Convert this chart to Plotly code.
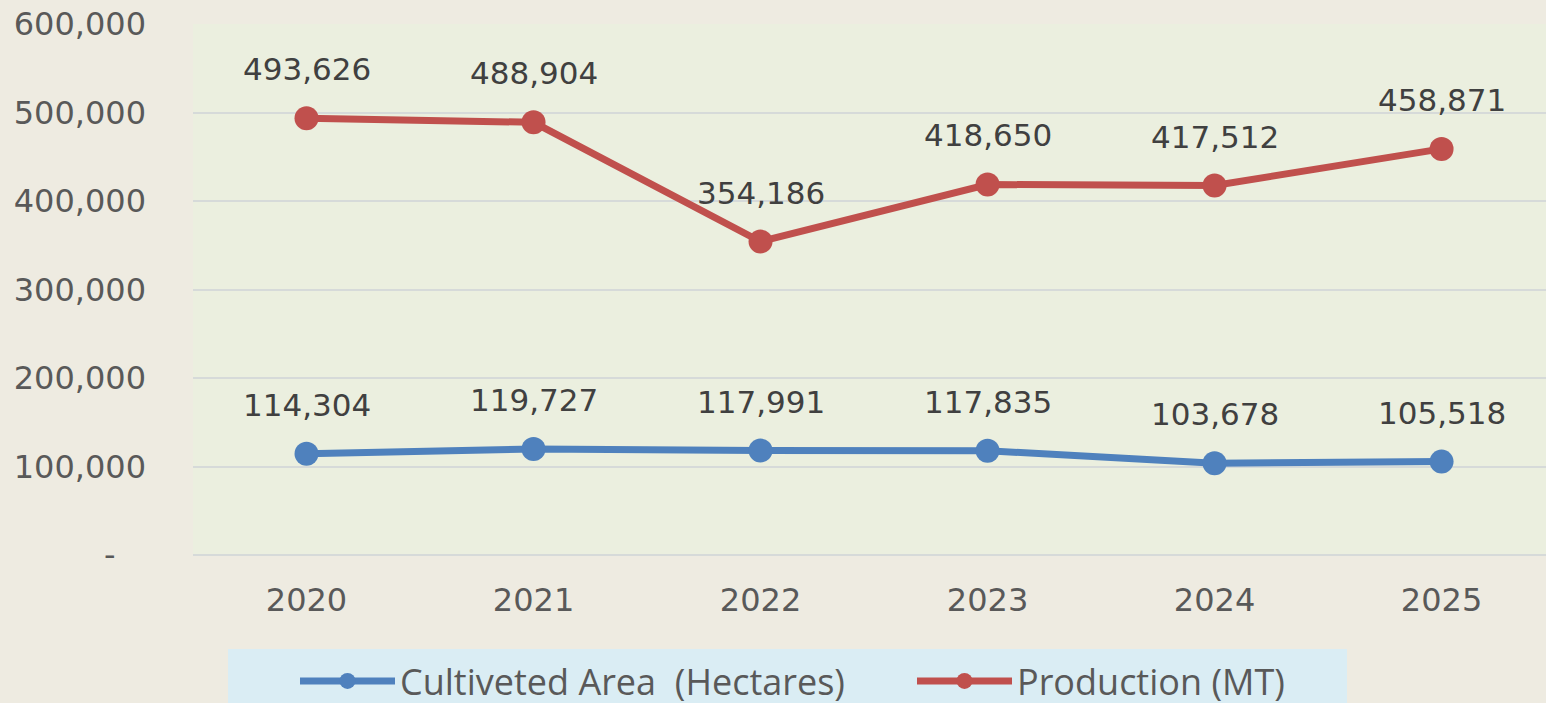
import plotly.graph_objects as go

years = ["2020", "2021", "2022", "2023", "2024", "2025"]
area = [114304, 119727, 117991, 117835, 103678, 105518]
production = [493626, 488904, 354186, 418650, 417512, 458871]
area_name = "Cultiveted Area  (Hectares)"
prod_name = "Production (MT)"
y_tickvals = [0, 100000, 200000, 300000, 400000, 500000, 600000]
y_ticktext = ["-\u00a0\u00a0\u00a0", "100,000", "200,000", "300,000", "400,000", "500,000", "600,000"]

BLUE = "#4F81BD"
RED = "#C0504D"

fig = go.Figure()
fig.add_trace(go.Scatter(x=years, y=area, name=area_name, mode="lines+markers",
                         line=dict(color=BLUE, width=7), marker=dict(color=BLUE, size=24),
                         cliponaxis=False))
fig.add_trace(go.Scatter(x=years, y=production, name=prod_name, mode="lines+markers",
                         line=dict(color=RED, width=7), marker=dict(color=RED, size=24),
                         cliponaxis=False))

for series in (area, production):
    for i, yv in enumerate(series):
        fig.add_annotation(x=i, xref="x", y=yv, yref="y", text=f"{yv:,}", showarrow=False,
                           yshift=49, yanchor="middle",
                           font=dict(family="DejaVu Sans", size=31, color="#404040"))

H = 713  # slightly taller than the window; bottom strip is hidden
T, B = 24, 158
PH = H - T - B  # plot height in px
fig.add_shape(type="rect", xref="paper", yref="paper",
              x0=(228 - 193) / 1353, x1=(1347 - 193) / 1353,
              y0=-(B + 10) / PH, y1=-(649 - 555) / PH,
              fillcolor="#DAEDF4", line=dict(width=0), layer="below")

fig.update_layout(
    width=1546, height=H,
    margin=dict(l=193, r=0, t=T, b=B, pad=0),
    paper_bgcolor="#EEEBE1",
    plot_bgcolor="#EBEFDF",
    font=dict(family="DejaVu Sans", size=32, color="#595959"),
    showlegend=True,
    legend=dict(orientation="h", x=(295 - 193) / 1353, xanchor="left",
                y=-(B - 2) / PH, yanchor="bottom",
                bgcolor="rgba(0,0,0,0)",
                font=dict(family="Liberation Sans Narrow, Open Sans", size=36, color="#595959"),
                entrywidth=507, entrywidthmode="pixels",
                itemwidth=95),
)
fig.update_xaxes(type="category", range=[-0.5, 5.46], showgrid=False,
                 showline=False, zeroline=False, ticks="", ticklabelstandoff=23,
                 tickfont=dict(size=32, color="#595959"))
fig.update_yaxes(range=[0, 600000], tickvals=y_tickvals, ticktext=y_ticktext,
                 showgrid=True, gridcolor="#D6DAD9", gridwidth=2,
                 zeroline=True, zerolinecolor="#D6DAD9", zerolinewidth=2,
                 showline=False, ticks="", ticklabelstandoff=46,
                 tickfont=dict(size=32, color="#595959"))

fig.write_html("out.html", config={"displayModeBar": False},
               post_script="document.body.style.margin='0';document.body.style.overflow='hidden';")
